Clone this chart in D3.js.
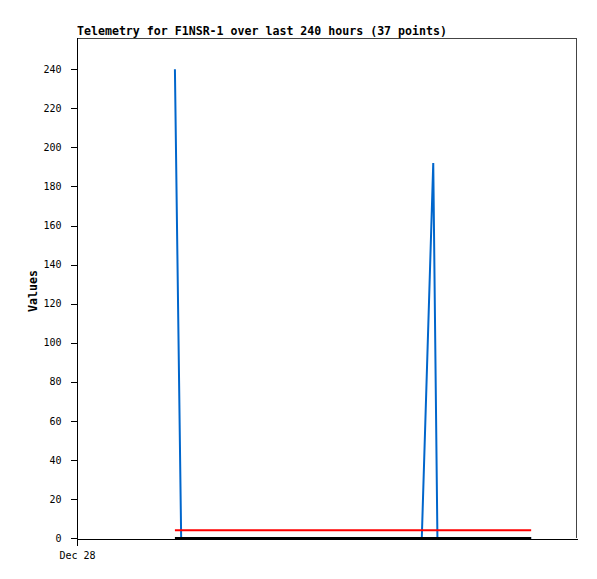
<!DOCTYPE html>
<html>
<head>
<meta charset="utf-8">
<script src="https://cdn.jsdelivr.net/npm/d3@7"></script>
<style>
  body { margin: 0; background: #fff; }
  text { font-family: "DejaVu Sans Mono", monospace; }
</style>
</head>
<body>
<div id="chart"></div>
<script>
// telemetry samples, hours after Dec 28 00:00
let hours = [47, 50, 54, 59, 63, 68, 72, 77, 81, 86, 90, 95, 99, 104, 108, 113, 117, 122, 126,
  131, 135, 140, 144, 149, 153, 158, 162, 165.5, 171, 173, 178, 182, 187, 195, 204, 211, 218];
let values = [240, 0, 0, 0, 0, 0, 0, 0, 0, 0, 0, 0, 0, 0, 0, 0, 0, 0, 0,
  0, 0, 0, 0, 0, 0, 0, 0, 0, 192, 0, 0, 0, 0, 0, 0, 0, 0];
let limitValues = [4, 4, 4, 4, 4, 4, 4, 4, 4, 4, 4, 4, 4, 4, 4, 4, 4, 4, 4,
  4, 4, 4, 4, 4, 4, 4, 4, 4, 4, 4, 4, 4, 4, 4, 4, 4, 4];
let baseValues = [0, 0, 0, 0, 0, 0, 0, 0, 0, 0, 0, 0, 0, 0, 0, 0, 0, 0, 0,
  0, 0, 0, 0, 0, 0, 0, 0, 0, 0, 0, 0, 0, 0, 0, 0, 0, 0];
let yTicks = [0, 20, 40, 60, 80, 100, 120, 140, 160, 180, 200, 220, 240];
let xTickLabels = ["Dec 28"];

let title = "Telemetry for F1NSR-1 over last 240 hours (37 points)";

let width = 597,
    height = 579;
let margin = {top: 38, right: 20, bottom: 41, left: 77};

let start = new Date(2023, 11, 28, 0, 0);
let times = hours.map(h => new Date(start.getTime() + h * 3600e3));

let x = d3.scaleTime()
    .domain([start, d3.timeHour.offset(start, 240)])
    .range([margin.left, width - margin.right]);
let y = d3.scaleLinear()
    .domain([0, 256])
    .range([height - margin.bottom, margin.top]);

let svg = d3.select("#chart").append("svg")
    .attr("width", width)
    .attr("height", height);

// frame (top/right)
svg.append("path")
    .attr("d", `M${margin.left},${margin.top + 0.5}H${width - margin.right - 0.5}V${height - margin.bottom}`)
    .attr("fill", "none")
    .attr("stroke", "#444")
    .attr("shape-rendering", "crispEdges");

let line = d3.line()
    .x(d => x(d[0]))
    .y(d => y(d[1]));

let series = [
  {vals: values, color: "#0066CC"},
  {vals: limitValues, color: "#FF0000"},
  {vals: baseValues, color: "#000000"}
];

series.forEach(s => {
  svg.append("path")
      .datum(times.map((t, i) => [t, s.vals[i]]))
      .attr("d", line)
      .attr("fill", "none")
      .attr("stroke", s.color)
      .attr("stroke-width", 2);
});

// y axis
let yAxis = svg.append("g")
    .attr("transform", `translate(${margin.left + 0.5},0)`)
    .call(d3.axisLeft(y).tickValues(yTicks).tickSize(7).tickPadding(9).tickSizeOuter(0));
yAxis.select(".domain").attr("d", `M0,${margin.top}V${height - margin.bottom + 0.5}`);

// x axis
let xAxis = svg.append("g")
    .attr("transform", `translate(0,${height - margin.bottom + 0.5})`)
    .call(d3.axisBottom(x).tickValues([start]).tickFormat((d, i) => xTickLabels[i])
      .tickSize(7).tickPadding(6).tickSizeOuter(0));

svg.selectAll(".tick text")
    .attr("font-family", "'DejaVu Sans Mono', monospace")
    .attr("font-size", 10)
    .attr("fill", "#000");
svg.selectAll(".domain, .tick line")
    .attr("stroke", "#000")
    .attr("shape-rendering", "crispEdges");

svg.append("text")
    .attr("x", margin.left)
    .attr("y", 35)
    .attr("font-size", 11.6)
    .attr("font-weight", "bold")
    .text(title);

svg.append("text")
    .attr("transform", `translate(37,291) rotate(-90)`)
    .attr("text-anchor", "middle")
    .attr("font-size", 11.6)
    .attr("font-weight", "bold")
    .text("Values");
</script>
</body>
</html>
